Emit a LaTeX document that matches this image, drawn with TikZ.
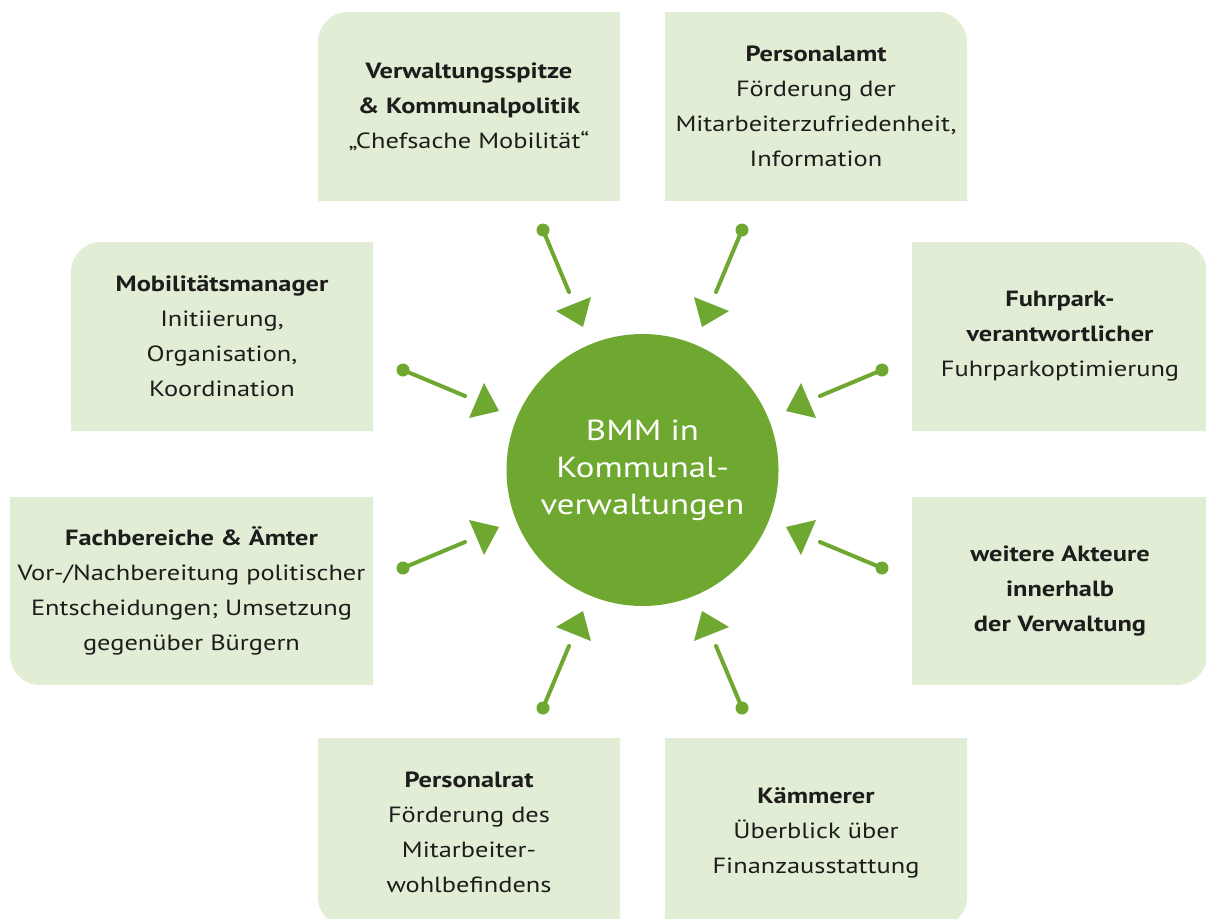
\documentclass[tikz,border=0pt]{standalone}
\usepackage{fontspec}
\setmainfont{PT Sans}[FakeStretch=1.2]
\definecolor{gr}{HTML}{6FA830}
\definecolor{lg}{HTML}{E2EDD6}
\definecolor{tx}{HTML}{1D1D1B}
\begin{document}
\begin{tikzpicture}[x=1pt,y=-1pt,
  lbl/.style={align=center,font=\fontsize{22}{35}\selectfont,text=tx,inner sep=0pt},
  conn/.style={draw=gr,line width=4pt,line cap=round},
  tri/.style={fill=gr},
  boxbg/.style={fill=lg}]
\useasboundingbox (0,0) rectangle (1206,918);

% boxes
\fill[boxbg] (620,12) -- (348,12) .. controls (331.4,12) and (318,25.4) .. (318,42) -- (318,201) -- (620,201) -- cycle;
\fill[boxbg] (665,12) -- (937,12) .. controls (953.6,12) and (967,25.4) .. (967,42) -- (967,201) -- (665,201) -- cycle;
\fill[boxbg] (373,242) -- (101,242) .. controls (84.4,242) and (71,255.4) .. (71,272) -- (71,431) -- (373,431) -- cycle;
\fill[boxbg] (912,242) -- (1177,242) .. controls (1193.6,242) and (1207,255.4) .. (1207,272) -- (1207,431) -- (912,431) -- cycle;
\fill[boxbg] (373,497) -- (10,497) -- (10,655) .. controls (10,671.6) and (23.4,685) .. (40,685) -- (373,685) -- cycle;
\fill[boxbg] (912,497) -- (1207,497) -- (1207,655) .. controls (1207,671.6) and (1193.6,685) .. (1177,685) -- (912,685) -- cycle;
\fill[boxbg] (620,738) -- (318,738) -- (318,897) .. controls (318,913.6) and (331.4,927) .. (348,927) -- (620,927) -- cycle;
\fill[boxbg] (665,738) -- (967,738) -- (967,897) .. controls (967,913.6) and (953.6,927) .. (937,927) -- (665,927) -- cycle;

% texts
\node[lbl] (vs) at (469,106.5) {\textbf{Verwaltungsspitze}\\\textbf{\& Kommunalpolitik}\\„Chefsache Mobilität“};
\node[lbl] (pa) at (816,106.5) {\textbf{Personalamt}\\Förderung der\\Mitarbeiterzufriedenheit,\\Information};
\node[lbl] (mm) at (222,336.5) {\textbf{Mobilitätsmanager}\\Initiierung,\\Organisation,\\Koordination};
\node[lbl] (fp) at (1060,336.5) {\textbf{Fuhrpark-}\\\textbf{verantwortlicher}\\Fuhrparkoptimierung};
\node[lbl] (fb) at (191.5,591) {\textbf{Fachbereiche \& Ämter}\\Vor-/Nachbereitung politischer\\Entscheidungen; Umsetzung\\gegenüber Bürgern};
\node[lbl] (wa) at (1060,591) {\textbf{weitere Akteure}\\\textbf{innerhalb}\\\textbf{der Verwaltung}};
\node[lbl] (pr) at (469,832.5) {\textbf{Personalrat}\\Förderung des\\Mitarbeiter-\\wohlbefindens};
\node[lbl] (km) at (816,832.5) {\textbf{Kämmerer}\\Überblick über\\Finanzausstattung};

% centre
\node[circle,fill=gr,minimum size=272pt,inner sep=0pt,text=white,align=center,
      font=\fontsize{29}{37}\selectfont] (c) at (642.5,470) {BMM in\\Kommunal-\\verwaltungen};

% connectors
\coordinate (d1) at (543,230); \coordinate (e1) at (569,292);
\coordinate (d2) at (742,230); \coordinate (e2) at (716,292);
\coordinate (d3) at (403,370); \coordinate (e3) at (465,396);
\coordinate (d4) at (882,370); \coordinate (e4) at (820,396);
\coordinate (d5) at (403,568); \coordinate (e5) at (465,542);
\coordinate (d6) at (882,568); \coordinate (e6) at (820,542);
\coordinate (d7) at (543,708); \coordinate (e7) at (569,646);
\coordinate (d8) at (742,708); \coordinate (e8) at (716,646);
\foreach \i in {1,...,8}{
  \draw[conn] (d\i) -- (e\i);
  \fill[gr] (d\i) circle (6.5);
}
% arrow heads
\fill[tri] (556,311) -- (591,297) -- (583,327) -- cycle;
\fill[tri] (729,311) -- (694,297) -- (702,327) -- cycle;
\fill[tri] (484,383) -- (499,411) -- (469,418) -- cycle;
\fill[tri] (801,383) -- (786,411) -- (816,418) -- cycle;
\fill[tri] (484,555) -- (499,527) -- (469,520) -- cycle;
\fill[tri] (801,555) -- (786,527) -- (816,520) -- cycle;
\fill[tri] (556,627) -- (591,641) -- (583,611) -- cycle;
\fill[tri] (729,627) -- (694,641) -- (702,611) -- cycle;
\end{tikzpicture}
\end{document}
